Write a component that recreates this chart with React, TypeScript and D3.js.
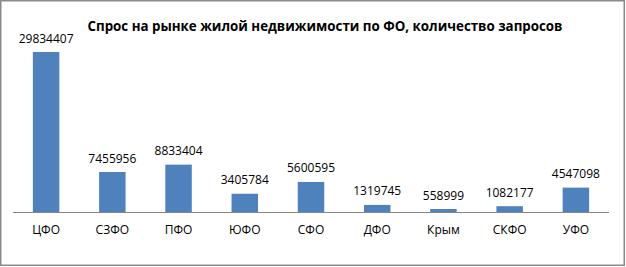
import React from "react";
import * as d3 from "d3";

const categories = ["ЦФО", "СЗФО", "ПФО", "ЮФО", "СФО", "ДФО", "Крым", "СКФО", "УФО"];
const values = [29834407, 7455956, 8833404, 3405784, 5600595, 1319745, 558999, 1082177, 4547098];
const title = "Спрос на рынке жилой недвижимости по ФО, количество запросов";

const W = 626;
const H = 267;
const baseY = 212;
const font = "'Open Sans', 'Liberation Sans', sans-serif";

export default function App() {
  const x = d3.scaleBand<string>().domain(categories).range([13, 609]).paddingInner(0.6).paddingOuter(0.3);
  const y = d3.scaleLinear().domain([0, 29834407]).range([baseY, 52]);
  return (
    <svg width={W} height={H} style={{ position: "absolute", left: 0, top: 0, display: "block" }}>
      <rect x={0} y={0} width={W} height={H} fill="#fff" />
      <rect x={0.75} y={0.75} width={623.5} height={264.5} fill="none" stroke="#8a8a8a" strokeWidth={1.5} />
      <text x={325} y={31} textAnchor="middle" fontFamily={font} fontWeight="bold" fontSize={14}
        textLength={475} lengthAdjust="spacingAndGlyphs" fill="#000">{title}</text>
      {categories.map((c, i) => {
        const bx = x(c)!;
        const bw = x.bandwidth();
        const cx = bx + bw / 2;
        return (
          <g key={c}>
            <rect x={bx} y={y(values[i])} width={bw} height={baseY - y(values[i])} fill="#4F81BD" />
            <text x={cx} y={y(values[i]) - 9.5} textAnchor="middle" fontFamily={font} fontSize={12} fill="#000">{values[i]}</text>
            <text x={cx} y={234} textAnchor="middle" fontFamily={font} fontSize={12} fill="#000">{c}</text>
          </g>
        );
      })}
      <line x1={13} x2={609} y1={baseY + 0.5} y2={baseY + 0.5} stroke="#868686" strokeWidth={1} />
    </svg>
  );
}
